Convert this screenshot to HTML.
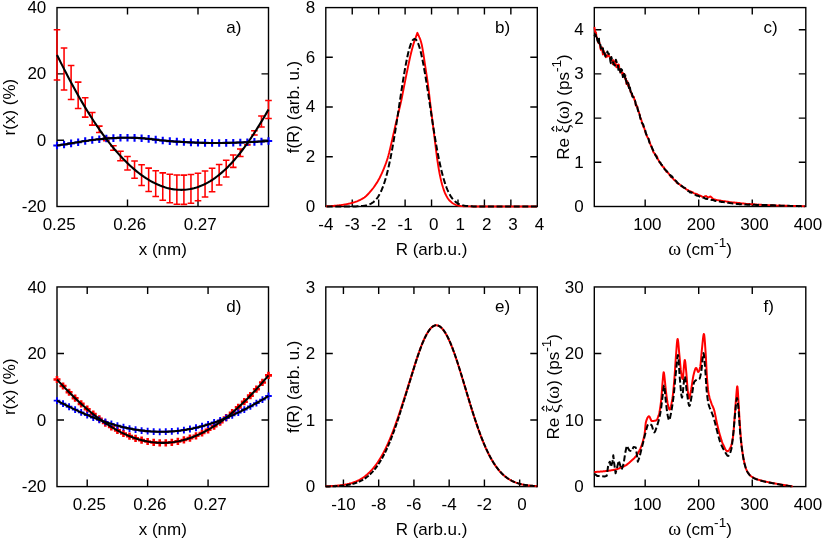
<!DOCTYPE html>
<html><head><meta charset="utf-8"><title>figure</title>
<style>html,body{margin:0;padding:0;background:#fff}body{width:822px;height:540px;overflow:hidden;font-family:"Liberation Sans",sans-serif}svg{display:block;will-change:transform}</style>
</head><body>
<svg width="822" height="540" viewBox="0 0 822 540" font-family="'Liberation Sans', sans-serif" fill="#000">
<rect width="822" height="540" fill="#fff"/>
<rect x="57" y="7.6" width="211.5" height="198.9" fill="none" stroke="#000" stroke-width="1.4"/>
<path d="M127.5 206.5v-7 M127.5 7.6v7 M198 206.5v-7 M198 7.6v7 M57 140.2h7 M268.5 140.2h-7 M57 73.9h7 M268.5 73.9h-7 " stroke="#000" stroke-width="1.4" fill="none"/>
<text x="59.2" y="229.8" text-anchor="middle" font-size="17">0.25</text>
<text x="129.7" y="229.8" text-anchor="middle" font-size="17">0.26</text>
<text x="200.2" y="229.8" text-anchor="middle" font-size="17">0.27</text>
<text x="46.3" y="211.9" text-anchor="end" font-size="17">-20</text>
<text x="46.3" y="145.6" text-anchor="end" font-size="17">0</text>
<text x="46.3" y="79.3" text-anchor="end" font-size="17">20</text>
<text x="46.3" y="13" text-anchor="end" font-size="17">40</text>
<text x="226.2" y="32.69" text-anchor="start" font-size="17">a)</text>
<text x="162.75" y="255.2" text-anchor="middle" font-size="17">x (nm)</text>
<text transform="translate(15.2 107.05) rotate(-90)" text-anchor="middle" font-size="17">r(x) (%)</text>
<rect x="325.8" y="7.6" width="211.5" height="198.9" fill="none" stroke="#000" stroke-width="1.4"/>
<path d="M352.24 206.5v-7 M352.24 7.6v7 M378.68 206.5v-7 M378.68 7.6v7 M405.11 206.5v-7 M405.11 7.6v7 M431.55 206.5v-7 M431.55 7.6v7 M457.99 206.5v-7 M457.99 7.6v7 M484.42 206.5v-7 M484.42 7.6v7 M510.86 206.5v-7 M510.86 7.6v7 M325.8 156.78h7 M537.3 156.78h-7 M325.8 107.05h7 M537.3 107.05h-7 M325.8 57.32h7 M537.3 57.32h-7 " stroke="#000" stroke-width="1.4" fill="none"/>
<text x="325.8" y="229.8" text-anchor="middle" font-size="17">-4</text>
<text x="352.24" y="229.8" text-anchor="middle" font-size="17">-3</text>
<text x="378.68" y="229.8" text-anchor="middle" font-size="17">-2</text>
<text x="405.11" y="229.8" text-anchor="middle" font-size="17">-1</text>
<text x="433.75" y="229.8" text-anchor="middle" font-size="17">0</text>
<text x="460.19" y="229.8" text-anchor="middle" font-size="17">1</text>
<text x="486.62" y="229.8" text-anchor="middle" font-size="17">2</text>
<text x="513.06" y="229.8" text-anchor="middle" font-size="17">3</text>
<text x="539.5" y="229.8" text-anchor="middle" font-size="17">4</text>
<text x="315.1" y="211.9" text-anchor="end" font-size="17">0</text>
<text x="315.1" y="162.18" text-anchor="end" font-size="17">2</text>
<text x="315.1" y="112.45" text-anchor="end" font-size="17">4</text>
<text x="315.1" y="62.72" text-anchor="end" font-size="17">6</text>
<text x="315.1" y="13" text-anchor="end" font-size="17">8</text>
<text x="495" y="32.69" text-anchor="start" font-size="17">b)</text>
<text x="431.55" y="255.2" text-anchor="middle" font-size="17">R (arb.u.)</text>
<text transform="translate(299.3 107.05) rotate(-90)" text-anchor="middle" font-size="17">f(R) (arb. u.)</text>
<rect x="594.3" y="7.6" width="211.5" height="198.9" fill="none" stroke="#000" stroke-width="1.4"/>
<path d="M645.17 206.5v-7 M645.17 7.6v7 M698.71 206.5v-7 M698.71 7.6v7 M752.26 206.5v-7 M752.26 7.6v7 M594.3 162.3h7 M805.8 162.3h-7 M594.3 118.1h7 M805.8 118.1h-7 M594.3 73.9h7 M805.8 73.9h-7 M594.3 29.7h7 M805.8 29.7h-7 " stroke="#000" stroke-width="1.4" fill="none"/>
<text x="647.37" y="229.8" text-anchor="middle" font-size="17">100</text>
<text x="700.91" y="229.8" text-anchor="middle" font-size="17">200</text>
<text x="754.46" y="229.8" text-anchor="middle" font-size="17">300</text>
<text x="808" y="229.8" text-anchor="middle" font-size="17">400</text>
<text x="583.6" y="211.9" text-anchor="end" font-size="17">0</text>
<text x="583.6" y="167.7" text-anchor="end" font-size="17">1</text>
<text x="583.6" y="123.5" text-anchor="end" font-size="17">2</text>
<text x="583.6" y="79.3" text-anchor="end" font-size="17">3</text>
<text x="583.6" y="35.1" text-anchor="end" font-size="17">4</text>
<text x="763.5" y="32.69" text-anchor="start" font-size="17">c)</text>
<text x="700.05" y="255.2" text-anchor="middle" font-size="17"><tspan font-family="'Liberation Serif', serif" font-size="19.5">&#969;</tspan> (cm<tspan font-size="13.6" dy="-8.2">-1</tspan><tspan dy="8.2">)</tspan></text>
<text transform="translate(569.1 107.05) rotate(-90)" text-anchor="middle" font-size="17">Re <tspan font-family="'Liberation Serif', serif" font-size="19.5">&#958;</tspan>(<tspan font-family="'Liberation Serif', serif" font-size="19.5">&#969;</tspan>) (ps<tspan font-size="13.6" dy="-8.2">-1</tspan><tspan dy="8.2">)</tspan></text>
<path d="M554.1 131.05L551.8 128.75L554.1 126.45" fill="none" stroke="#000" stroke-width="1.2"/>
<rect x="57" y="286.95" width="211.5" height="199.65" fill="none" stroke="#000" stroke-width="1.4"/>
<path d="M87.21 486.6v-7 M87.21 286.95v7 M147.64 486.6v-7 M147.64 286.95v7 M208.07 486.6v-7 M208.07 286.95v7 M57 420.05h7 M268.5 420.05h-7 M57 353.5h7 M268.5 353.5h-7 " stroke="#000" stroke-width="1.4" fill="none"/>
<text x="89.41" y="509.9" text-anchor="middle" font-size="17">0.25</text>
<text x="149.84" y="509.9" text-anchor="middle" font-size="17">0.26</text>
<text x="210.27" y="509.9" text-anchor="middle" font-size="17">0.27</text>
<text x="46.3" y="492.4" text-anchor="end" font-size="17">-20</text>
<text x="46.3" y="425.85" text-anchor="end" font-size="17">0</text>
<text x="46.3" y="359.3" text-anchor="end" font-size="17">20</text>
<text x="46.3" y="292.75" text-anchor="end" font-size="17">40</text>
<text x="226.2" y="312.11" text-anchor="start" font-size="17">d)</text>
<text x="162.75" y="535.3" text-anchor="middle" font-size="17">x (nm)</text>
<text transform="translate(15.2 386.77) rotate(-90)" text-anchor="middle" font-size="17">r(x) (%)</text>
<rect x="325.8" y="286.95" width="211.5" height="199.65" fill="none" stroke="#000" stroke-width="1.4"/>
<path d="M343.43 486.6v-7 M343.43 286.95v7 M378.68 486.6v-7 M378.68 286.95v7 M413.93 486.6v-7 M413.93 286.95v7 M449.17 486.6v-7 M449.17 286.95v7 M484.42 486.6v-7 M484.42 286.95v7 M519.67 486.6v-7 M519.67 286.95v7 M325.8 420.05h7 M537.3 420.05h-7 M325.8 353.5h7 M537.3 353.5h-7 " stroke="#000" stroke-width="1.4" fill="none"/>
<text x="343.43" y="509.9" text-anchor="middle" font-size="17">-10</text>
<text x="378.68" y="509.9" text-anchor="middle" font-size="17">-8</text>
<text x="413.93" y="509.9" text-anchor="middle" font-size="17">-6</text>
<text x="449.17" y="509.9" text-anchor="middle" font-size="17">-4</text>
<text x="484.42" y="509.9" text-anchor="middle" font-size="17">-2</text>
<text x="521.88" y="509.9" text-anchor="middle" font-size="17">0</text>
<text x="315.1" y="492.4" text-anchor="end" font-size="17">0</text>
<text x="315.1" y="425.85" text-anchor="end" font-size="17">1</text>
<text x="315.1" y="359.3" text-anchor="end" font-size="17">2</text>
<text x="315.1" y="292.75" text-anchor="end" font-size="17">3</text>
<text x="495" y="312.11" text-anchor="start" font-size="17">e)</text>
<text x="431.55" y="535.3" text-anchor="middle" font-size="17">R (arb.u.)</text>
<text transform="translate(299.3 386.77) rotate(-90)" text-anchor="middle" font-size="17">f(R) (arb. u.)</text>
<rect x="594.3" y="286.95" width="211.5" height="199.65" fill="none" stroke="#000" stroke-width="1.4"/>
<path d="M645.17 486.6v-7 M645.17 286.95v7 M698.71 486.6v-7 M698.71 286.95v7 M752.26 486.6v-7 M752.26 286.95v7 M594.3 420.05h7 M805.8 420.05h-7 M594.3 353.5h7 M805.8 353.5h-7 " stroke="#000" stroke-width="1.4" fill="none"/>
<text x="647.37" y="509.9" text-anchor="middle" font-size="17">100</text>
<text x="700.91" y="509.9" text-anchor="middle" font-size="17">200</text>
<text x="754.46" y="509.9" text-anchor="middle" font-size="17">300</text>
<text x="808" y="509.9" text-anchor="middle" font-size="17">400</text>
<text x="583.6" y="492.4" text-anchor="end" font-size="17">0</text>
<text x="583.6" y="425.85" text-anchor="end" font-size="17">10</text>
<text x="583.6" y="359.3" text-anchor="end" font-size="17">20</text>
<text x="583.6" y="292.75" text-anchor="end" font-size="17">30</text>
<text x="763.5" y="312.11" text-anchor="start" font-size="17">f)</text>
<text x="700.05" y="535.3" text-anchor="middle" font-size="17"><tspan font-family="'Liberation Serif', serif" font-size="19.5">&#969;</tspan> (cm<tspan font-size="13.6" dy="-8.2">-1</tspan><tspan dy="8.2">)</tspan></text>
<text transform="translate(559.3 386.77) rotate(-90)" text-anchor="middle" font-size="17">Re <tspan font-family="'Liberation Serif', serif" font-size="19.5">&#958;</tspan>(<tspan font-family="'Liberation Serif', serif" font-size="19.5">&#969;</tspan>) (ps<tspan font-size="13.6" dy="-8.2">-1</tspan><tspan dy="8.2">)</tspan></text>
<path d="M544.3 410.6L542 408.3L544.3 406" fill="none" stroke="#000" stroke-width="1.2"/>
<clipPath id="ca"><rect x="53" y="7.6" width="219.5" height="198.9"/></clipPath>
<path d="M57 29.78V80.09 M53.7 29.78h6.6 M53.7 80.09h6.6 M64.05 48.02V90.02 M60.75 48.02h6.6 M60.75 90.02h6.6 M71.1 65.51V99.54 M67.8 65.51h6.6 M67.8 99.54h6.6 M78.15 82.13V108.59 M74.85 82.13h6.6 M74.85 108.59h6.6 M85.2 97.8V117.12 M81.9 97.8h6.6 M81.9 117.12h6.6 M92.25 112.48V125.11 M88.95 112.48h6.6 M88.95 125.11h6.6 M99.3 126.13V132.54 M96 126.13h6.6 M96 132.54h6.6 M106.35 137.45V140.65 M103.05 137.45h6.6 M103.05 140.65h6.6 M113.4 145.66V150.23 M110.1 145.66h6.6 M110.1 150.23h6.6 M120.45 151.34V160.67 M117.15 151.34h6.6 M117.15 160.67h6.6 M127.5 156.44V170.02 M124.2 156.44h6.6 M124.2 170.02h6.6 M134.55 160.94V178.29 M131.25 160.94h6.6 M131.25 178.29h6.6 M141.6 164.84V185.46 M138.3 164.84h6.6 M138.3 185.46h6.6 M148.65 168.14V191.51 M145.35 168.14h6.6 M145.35 191.51h6.6 M155.7 170.82V196.45 M152.4 170.82h6.6 M152.4 196.45h6.6 M162.75 172.88V200.23 M159.45 172.88h6.6 M159.45 200.23h6.6 M169.8 174.3V202.84 M166.5 174.3h6.6 M166.5 202.84h6.6 M176.85 175.06V204.23 M173.55 175.06h6.6 M173.55 204.23h6.6 M183.9 175.14V204.38 M180.6 175.14h6.6 M180.6 204.38h6.6 M190.95 174.51V203.23 M187.65 174.51h6.6 M187.65 203.23h6.6 M198 173.17V200.76 M194.7 173.17h6.6 M194.7 200.76h6.6 M205.05 171.08V196.92 M201.75 171.08h6.6 M201.75 196.92h6.6 M212.1 168.22V191.68 M208.8 168.22h6.6 M208.8 191.68h6.6 M219.15 164.59V185.01 M215.85 164.59h6.6 M215.85 185.01h6.6 M226.2 160.18V176.91 M222.9 160.18h6.6 M222.9 176.91h6.6 M233.25 154.99V167.38 M229.95 154.99h6.6 M229.95 167.38h6.6 M240.3 149.04V156.45 M237 149.04h6.6 M237 156.45h6.6 M247.35 141.67V144.87 M244.05 141.67h6.6 M244.05 144.87h6.6 M254.4 130.66V135.01 M251.1 130.66h6.6 M251.1 135.01h6.6 M261.45 116.04V127.05 M258.15 116.04h6.6 M258.15 127.05h6.6 M268.5 100.51V118.59 M265.2 100.51h6.6 M265.2 118.59h6.6 " stroke="#ff0000" stroke-width="1.55" fill="none"/>
<path d="M57 141.7v7.6 M53.3 145.5h7.4 M64.05 140.67v7.6 M60.35 144.47h7.4 M71.1 139.54v7.6 M67.4 143.34h7.4 M78.15 138.38v7.6 M74.45 142.18h7.4 M85.2 137.26v7.6 M81.5 141.06h7.4 M92.25 136.25v7.6 M88.55 140.05h7.4 M99.3 135.41v7.6 M95.6 139.21h7.4 M106.35 134.77v7.6 M102.65 138.57h7.4 M113.4 134.29v7.6 M109.7 138.09h7.4 M120.45 133.99v7.6 M116.75 137.79h7.4 M127.5 133.9v7.6 M123.8 137.7h7.4 M134.55 134.04v7.6 M130.85 137.84h7.4 M141.6 134.42v7.6 M137.9 138.22h7.4 M148.65 135.06v7.6 M144.95 138.86h7.4 M155.7 135.87v7.6 M152 139.67h7.4 M162.75 136.67v7.6 M159.05 140.47h7.4 M169.8 137.32v7.6 M166.1 141.12h7.4 M176.85 137.83v7.6 M173.15 141.63h7.4 M183.9 138.24v7.6 M180.2 142.04h7.4 M190.95 138.6v7.6 M187.25 142.4h7.4 M198 138.89v7.6 M194.3 142.69h7.4 M205.05 139.1v7.6 M201.35 142.9h7.4 M212.1 139.2v7.6 M208.4 143h7.4 M219.15 139.2v7.6 M215.45 143h7.4 M226.2 139.1v7.6 M222.5 142.9h7.4 M233.25 138.93v7.6 M229.55 142.73h7.4 M240.3 138.69v7.6 M236.6 142.49h7.4 M247.35 138.39v7.6 M243.65 142.19h7.4 M254.4 138.03v7.6 M250.7 141.83h7.4 M261.45 137.63v7.6 M257.75 141.43h7.4 M268.5 137.2v7.6 M264.8 141h7.4 " stroke="#0000ff" stroke-width="2.1" fill="none"/>
<path d="M57 54.93 L58.78 58.53 L60.55 62.1 L62.33 65.64 L64.11 69.14 L65.89 72.6 L67.66 76.02 L69.44 79.4 L71.22 82.74 L73 86.04 L74.77 89.3 L76.55 92.51 L78.33 95.67 L80.11 98.79 L81.88 101.86 L83.66 104.88 L85.44 107.86 L87.21 110.78 L88.99 113.66 L90.77 116.48 L92.55 119.26 L94.32 121.98 L96.1 124.65 L97.88 127.27 L99.66 129.84 L101.43 132.36 L103.21 134.83 L104.99 137.24 L106.76 139.6 L108.54 141.91 L110.32 144.16 L112.1 146.36 L113.87 148.51 L115.65 150.61 L117.43 152.65 L119.21 154.64 L120.98 156.58 L122.76 158.47 L124.54 160.3 L126.32 162.07 L128.09 163.8 L129.87 165.47 L131.65 167.09 L133.42 168.65 L135.2 170.16 L136.98 171.62 L138.76 173.02 L140.53 174.36 L142.31 175.66 L144.09 176.9 L145.87 178.08 L147.64 179.21 L149.42 180.28 L151.2 181.3 L152.97 182.27 L154.75 183.17 L156.53 184.02 L158.31 184.82 L160.08 185.56 L161.86 186.24 L163.64 186.86 L165.42 187.42 L167.19 187.93 L168.97 188.38 L170.75 188.77 L172.53 189.1 L174.3 189.36 L176.08 189.57 L177.86 189.72 L179.63 189.81 L181.41 189.83 L183.19 189.79 L184.97 189.69 L186.74 189.52 L188.52 189.29 L190.3 189 L192.08 188.64 L193.85 188.21 L195.63 187.72 L197.41 187.16 L199.18 186.54 L200.96 185.85 L202.74 185.09 L204.52 184.26 L206.29 183.36 L208.07 182.4 L209.85 181.36 L211.63 180.26 L213.4 179.08 L215.18 177.84 L216.96 176.52 L218.74 175.14 L220.51 173.68 L222.29 172.15 L224.07 170.56 L225.84 168.89 L227.62 167.15 L229.4 165.34 L231.18 163.46 L232.95 161.52 L234.73 159.5 L236.51 157.42 L238.29 155.26 L240.06 153.05 L241.84 150.76 L243.62 148.41 L245.39 146 L247.17 143.52 L248.95 140.98 L250.73 138.39 L252.5 135.73 L254.28 133.02 L256.06 130.25 L257.84 127.43 L259.61 124.56 L261.39 121.65 L263.17 118.68 L264.95 115.68 L266.72 112.63 L268.5 109.55" fill="none" stroke="#000000" stroke-width="2.1" stroke-linejoin="round" stroke-linecap="butt"/>
<path d="M57 145.5 L58.78 145.25 L60.55 145 L62.33 144.73 L64.11 144.46 L65.89 144.18 L67.66 143.9 L69.44 143.61 L71.22 143.32 L73 143.03 L74.77 142.74 L76.55 142.44 L78.33 142.15 L80.11 141.86 L81.88 141.58 L83.66 141.3 L85.44 141.03 L87.21 140.76 L88.99 140.5 L90.77 140.25 L92.55 140.01 L94.32 139.78 L96.1 139.57 L97.88 139.37 L99.66 139.18 L101.43 139 L103.21 138.83 L104.99 138.68 L106.76 138.53 L108.54 138.4 L110.32 138.28 L112.1 138.17 L113.87 138.06 L115.65 137.97 L117.43 137.9 L119.21 137.83 L120.98 137.78 L122.76 137.73 L124.54 137.71 L126.32 137.7 L128.09 137.7 L129.87 137.72 L131.65 137.75 L133.42 137.8 L135.2 137.86 L136.98 137.94 L138.76 138.04 L140.53 138.15 L142.31 138.28 L144.09 138.42 L145.87 138.58 L147.64 138.76 L149.42 138.95 L151.2 139.14 L152.97 139.35 L154.75 139.56 L156.53 139.77 L158.31 139.98 L160.08 140.18 L161.86 140.38 L163.64 140.57 L165.42 140.74 L167.19 140.9 L168.97 141.06 L170.75 141.2 L172.53 141.33 L174.3 141.46 L176.08 141.58 L177.86 141.69 L179.63 141.8 L181.41 141.9 L183.19 142 L184.97 142.1 L186.74 142.19 L188.52 142.28 L190.3 142.37 L192.08 142.45 L193.85 142.53 L195.63 142.6 L197.41 142.67 L199.18 142.74 L200.96 142.79 L202.74 142.84 L204.52 142.89 L206.29 142.93 L208.07 142.96 L209.85 142.98 L211.63 143 L213.4 143.01 L215.18 143.01 L216.96 143.01 L218.74 143 L220.51 142.98 L222.29 142.96 L224.07 142.94 L225.84 142.91 L227.62 142.87 L229.4 142.83 L231.18 142.79 L232.95 142.74 L234.73 142.68 L236.51 142.63 L238.29 142.56 L240.06 142.5 L241.84 142.43 L243.62 142.35 L245.39 142.28 L247.17 142.19 L248.95 142.11 L250.73 142.02 L252.5 141.93 L254.28 141.84 L256.06 141.74 L257.84 141.64 L259.61 141.54 L261.39 141.44 L263.17 141.33 L264.95 141.22 L266.72 141.11 L268.5 141" fill="none" stroke="#000000" stroke-width="2.1" stroke-linejoin="round" stroke-linecap="butt"/>
<path d="M326 206.3 L326.75 206.29 L327.51 206.26 L328.26 206.24 L329.01 206.2 L329.76 206.16 L330.52 206.12 L331.27 206.06 L332.02 206.01 L332.78 205.95 L333.53 205.88 L334.28 205.81 L335.04 205.74 L335.79 205.66 L336.54 205.58 L337.29 205.5 L338.05 205.42 L338.8 205.33 L339.55 205.25 L340.31 205.16 L341.06 205.07 L341.81 204.97 L342.56 204.87 L343.32 204.76 L344.07 204.64 L344.82 204.51 L345.58 204.37 L346.33 204.23 L347.08 204.08 L347.84 203.92 L348.59 203.75 L349.34 203.58 L350.09 203.39 L350.85 203.21 L351.6 203.01 L352.35 202.81 L353.11 202.6 L353.86 202.38 L354.61 202.15 L355.36 201.91 L356.12 201.64 L356.87 201.36 L357.62 201.06 L358.38 200.73 L359.13 200.39 L359.88 200.03 L360.64 199.65 L361.39 199.25 L362.14 198.83 L362.89 198.39 L363.65 197.92 L364.4 197.43 L365.15 196.87 L365.91 196.23 L366.66 195.54 L367.41 194.8 L368.16 194.01 L368.92 193.18 L369.67 192.32 L370.42 191.45 L371.18 190.56 L371.93 189.66 L372.68 188.72 L373.44 187.74 L374.19 186.71 L374.94 185.64 L375.69 184.52 L376.45 183.36 L377.2 182.16 L377.95 180.91 L378.71 179.59 L379.46 178.2 L380.21 176.72 L380.96 175.17 L381.72 173.55 L382.47 171.87 L383.22 170.12 L383.98 168.32 L384.73 166.45 L385.48 164.48 L386.24 162.4 L386.99 160.19 L387.74 157.84 L388.49 155.27 L389.25 152.34 L390 149.16 L390.75 145.91 L391.51 142.7 L392.26 139.43 L393.01 136.08 L393.76 132.71 L394.52 129.36 L395.27 126.06 L396.02 122.84 L396.78 119.67 L397.53 116.54 L398.28 113.4 L399.04 110.25 L399.79 107.05 L400.54 103.86 L401.29 100.56 L402.05 96.89 L402.8 92.92 L403.55 89 L404.31 85.13 L405.06 81.31 L405.81 77.58 L406.56 73.92 L407.32 70.25 L408.07 66.55 L408.82 62.96 L409.58 59.49 L410.33 56.12 L411.08 52.97 L411.84 49.99 L412.59 47.16 L413.34 44.53 L414.09 42.1 L414.85 39.86 L415.6 37.8 L417.4 32.8 L419.3 37.2 L420.15 39.03 L420.99 41.73 L421.84 45.02 L422.69 49.59 L423.53 54.75 L424.38 60.45 L425.23 66.07 L426.07 71.63 L426.92 77.15 L427.77 83.05 L428.61 89.61 L429.46 96.73 L430.31 103.8 L431.15 110.69 L432 117.49 L432.85 124.28 L433.69 131.11 L434.54 137.96 L435.39 144.7 L436.24 151.57 L437.08 158.22 L437.93 163.94 L438.78 169.04 L439.62 173.72 L440.47 177.88 L441.32 181.45 L442.16 184.64 L443.01 187.57 L443.86 190.18 L444.7 192.44 L445.55 194.3 L446.4 195.92 L447.24 197.39 L448.09 198.71 L448.94 199.85 L449.78 200.82 L450.63 201.6 L451.48 202.29 L452.32 202.93 L453.17 203.51 L454.02 204.02 L454.86 204.45 L455.71 204.81 L456.56 205.09 L457.4 205.31 L458.25 205.51 L459.1 205.7 L459.94 205.86 L460.79 206 L461.64 206.1 L462.48 206.17 L463.33 206.21 L464.18 206.24 L465.03 206.27 L465.87 206.3 L466.72 206.32 L467.57 206.34 L468.41 206.36 L469.26 206.38 L470.11 206.4 L470.95 206.42 L471.8 206.43 L472.65 206.45 L473.49 206.46 L474.34 206.47 L475.19 206.48 L476.03 206.48 L476.88 206.49 L477.73 206.49 L478.57 206.5 L479.42 206.5 L480.27 206.5 L481.11 206.5 L481.96 206.5 L482.81 206.5 L483.65 206.5 L484.5 206.5 L485.35 206.5 L486.19 206.5 L487.04 206.5 L487.89 206.5 L488.73 206.5 L489.58 206.5 L490.43 206.5 L491.27 206.5 L492.12 206.5 L492.97 206.5 L493.82 206.5 L494.66 206.5 L495.51 206.5 L496.36 206.5 L497.2 206.5 L498.05 206.5 L498.9 206.5 L499.74 206.5 L500.59 206.5 L501.44 206.5 L502.28 206.5 L503.13 206.5 L503.98 206.5 L504.82 206.5 L505.67 206.5 L506.52 206.5 L507.36 206.5 L508.21 206.5 L509.06 206.5 L509.9 206.5 L510.75 206.5 L511.6 206.5 L512.44 206.5 L513.29 206.5 L514.14 206.5 L514.98 206.5 L515.83 206.5 L516.68 206.5 L517.52 206.5 L518.37 206.5 L519.22 206.5 L520.06 206.5 L520.91 206.5 L521.76 206.5 L522.61 206.5 L523.45 206.5 L524.3 206.5 L525.15 206.5 L525.99 206.5 L526.84 206.5 L527.69 206.5 L528.53 206.5 L529.38 206.5 L530.23 206.5 L531.07 206.5 L531.92 206.5 L532.77 206.5 L533.61 206.5 L534.46 206.5 L535.31 206.5 L536.15 206.5 L537 206.5" fill="none" stroke="#ff0000" stroke-width="1.9" stroke-linejoin="round" stroke-linecap="butt"/>
<path d="M325.8 206.5 L326.51 206.5 L327.21 206.5 L327.92 206.5 L328.63 206.5 L329.34 206.5 L330.04 206.5 L330.75 206.5 L331.46 206.5 L332.17 206.5 L332.87 206.5 L333.58 206.5 L334.29 206.5 L335 206.5 L335.7 206.5 L336.41 206.5 L337.12 206.5 L337.83 206.5 L338.53 206.5 L339.24 206.5 L339.95 206.5 L340.65 206.5 L341.36 206.5 L342.07 206.5 L342.78 206.5 L343.48 206.5 L344.19 206.5 L344.9 206.49 L345.61 206.49 L346.31 206.49 L347.02 206.49 L347.73 206.49 L348.44 206.49 L349.14 206.48 L349.85 206.48 L350.56 206.47 L351.26 206.47 L351.97 206.46 L352.68 206.45 L353.39 206.44 L354.09 206.43 L354.8 206.42 L355.51 206.4 L356.22 206.38 L356.92 206.36 L357.63 206.34 L358.34 206.31 L359.05 206.27 L359.75 206.23 L360.46 206.18 L361.17 206.12 L361.88 206.06 L362.58 205.98 L363.29 205.89 L364 205.79 L364.7 205.68 L365.41 205.55 L366.12 205.39 L366.83 205.22 L367.53 205.02 L368.24 204.8 L368.95 204.55 L369.66 204.26 L370.36 203.94 L371.07 203.57 L371.78 203.17 L372.49 202.71 L373.19 202.2 L373.9 201.63 L374.61 201 L375.32 200.3 L376.02 199.53 L376.73 198.67 L377.44 197.73 L378.14 196.7 L378.85 195.57 L379.56 194.34 L380.27 192.99 L380.97 191.53 L381.68 189.95 L382.39 188.24 L383.1 186.39 L383.8 184.41 L384.51 182.28 L385.22 180 L385.93 177.57 L386.63 174.99 L387.34 172.25 L388.05 169.35 L388.75 166.28 L389.46 163.06 L390.17 159.69 L390.88 156.15 L391.58 152.47 L392.29 148.64 L393 144.67 L393.71 140.57 L394.41 136.35 L395.12 132.02 L395.83 127.59 L396.54 123.07 L397.24 118.48 L397.95 113.84 L398.66 109.17 L399.37 104.47 L400.07 99.78 L400.78 95.11 L401.49 90.48 L402.19 85.92 L402.9 81.45 L403.61 77.09 L404.32 72.86 L405.02 68.79 L405.73 64.9 L406.44 61.21 L407.15 57.74 L407.85 54.52 L408.56 51.55 L409.27 48.87 L409.98 46.48 L410.68 44.4 L411.39 42.65 L412.1 41.23 L412.81 40.15 L413.51 39.42 L414.22 39.05 L414.93 39.04 L415.63 39.38 L416.34 40.08 L417.05 41.13 L417.76 42.53 L418.46 44.26 L419.17 46.31 L419.88 48.68 L420.59 51.34 L421.29 54.29 L422 57.49 L422.71 60.94 L423.42 64.62 L424.12 68.49 L424.83 72.55 L425.54 76.77 L426.24 81.12 L426.95 85.58 L427.66 90.14 L428.37 94.76 L429.07 99.43 L429.78 104.12 L430.49 108.81 L431.2 113.49 L431.9 118.14 L432.61 122.73 L433.32 127.25 L434.03 131.69 L434.73 136.03 L435.44 140.26 L436.15 144.37 L436.86 148.35 L437.56 152.19 L438.27 155.88 L438.98 159.43 L439.68 162.82 L440.39 166.05 L441.1 169.12 L441.81 172.03 L442.51 174.79 L443.22 177.38 L443.93 179.83 L444.64 182.11 L445.34 184.25 L446.05 186.25 L446.76 188.1 L447.47 189.83 L448.17 191.42 L448.88 192.89 L449.59 194.24 L450.29 195.48 L451 196.62 L451.71 197.66 L452.42 198.6 L453.12 199.46 L453.83 200.24 L454.54 200.95 L455.25 201.59 L455.95 202.16 L456.66 202.67 L457.37 203.13 L458.08 203.54 L458.78 203.91 L459.49 204.24 L460.2 204.53 L460.91 204.78 L461.61 205.01 L462.32 205.21 L463.03 205.38 L463.73 205.54 L464.44 205.67 L465.15 205.79 L465.86 205.89 L466.56 205.98 L467.27 206.05 L467.98 206.12 L468.69 206.18 L469.39 206.23 L470.1 206.27 L470.81 206.3 L471.52 206.33 L472.22 206.36 L472.93 206.38 L473.64 206.4 L474.35 206.42 L475.05 206.43 L475.76 206.44 L476.47 206.45 L477.17 206.46 L477.88 206.47 L478.59 206.47 L479.3 206.48 L480 206.48 L480.71 206.49 L481.42 206.49 L482.13 206.49 L482.83 206.49 L483.54 206.49 L484.25 206.49 L484.96 206.5 L485.66 206.5 L486.37 206.5 L487.08 206.5 L487.78 206.5 L488.49 206.5 L489.2 206.5 L489.91 206.5 L490.61 206.5 L491.32 206.5 L492.03 206.5 L492.74 206.5 L493.44 206.5 L494.15 206.5 L494.86 206.5 L495.57 206.5 L496.27 206.5 L496.98 206.5 L497.69 206.5 L498.4 206.5 L499.1 206.5 L499.81 206.5 L500.52 206.5 L501.22 206.5 L501.93 206.5 L502.64 206.5 L503.35 206.5 L504.05 206.5 L504.76 206.5 L505.47 206.5 L506.18 206.5 L506.88 206.5 L507.59 206.5 L508.3 206.5 L509.01 206.5 L509.71 206.5 L510.42 206.5 L511.13 206.5 L511.84 206.5 L512.54 206.5 L513.25 206.5 L513.96 206.5 L514.66 206.5 L515.37 206.5 L516.08 206.5 L516.79 206.5 L517.49 206.5 L518.2 206.5 L518.91 206.5 L519.62 206.5 L520.32 206.5 L521.03 206.5 L521.74 206.5 L522.45 206.5 L523.15 206.5 L523.86 206.5 L524.57 206.5 L525.27 206.5 L525.98 206.5 L526.69 206.5 L527.4 206.5 L528.1 206.5 L528.81 206.5 L529.52 206.5 L530.23 206.5 L530.93 206.5 L531.64 206.5 L532.35 206.5 L533.06 206.5 L533.76 206.5 L534.47 206.5 L535.18 206.5 L535.89 206.5 L536.59 206.5 L537.3 206.5" fill="none" stroke="#000000" stroke-width="2.0" stroke-linejoin="round" stroke-linecap="butt" stroke-dasharray="6 2.6" stroke-dashoffset="7.71"/>
<path d="M594.4 27 L594.9 30.56 L595.4 32.28 L595.9 32.12 L596.4 35.68 L596.9 37.99 L597.4 38.84 L597.9 41.15 L598.4 42.97 L598.9 41.71 L599.4 42.42 L599.9 44.67 L600.4 48.32 L600.9 49.95 L601.4 47.43 L601.9 47.31 L602.4 51.33 L602.9 54.53 L603.4 52.74 L603.9 51.09 L604.4 54.3 L604.9 53.39 L605.4 54.75 L605.9 57.23 L606.4 56.5 L606.9 55.34 L607.4 56.57 L607.9 55.02 L608.4 55.5 L608.9 55.65 L609.4 56.64 L609.9 56.98 L610.4 57.94 L610.9 58.38 L611.4 59.67 L611.9 60.52 L612.4 61.52 L612.9 64.22 L613.4 60.31 L613.9 64.06 L614.4 63.69 L614.9 61.51 L615.4 63.26 L615.9 64.87 L616.4 67.23 L616.9 64.58 L617.4 66 L617.9 67.15 L618.4 64.44 L618.9 64.73 L619.4 68.72 L619.9 70.56 L620.4 71.92 L620.9 71.84 L621.4 71.98 L621.9 72.25 L622.4 74.91 L622.9 72.92 L623.4 73.81 L623.9 76.1 L624.4 73.9 L624.9 78.71 L625.4 77.76 L625.9 78.72 L626.4 83.99 L626.9 81.32 L627.4 81.27 L627.9 85.76 L628.4 84.15 L628.9 85.03 L629.4 87.84 L629.9 89.41 L630.4 90.78 L630.9 91.82 L631.4 93.96 L631.9 95.14 L632.4 95.88 L632.9 95.84 L633.4 96.68 L633.9 96.89 L634.4 100.07 L634.9 99.99 L635.4 102.85 L635.9 105.78 L636.4 105 L636.9 105.86 L637.4 107.57 L637.9 110.17 L638.4 110.73 L638.9 112.42 L639.4 113.91 L639.9 115.62 L640 117.16 L640.85 118.58 L641.7 121.34 L642.55 124.18 L643.4 127 L644.25 128.05 L645.1 131.38 L645.95 133.69 L646.8 135.97 L647.65 137.7 L648.5 138.65 L649.35 140.95 L650.2 143.95 L651.05 145.78 L651.9 147.5 L652.75 150.27 L653.6 152.55 L654.45 153.2 L655.3 155.44 L656.15 155.46 L657 156.33 L657.85 159.2 L658.7 160.56 L659.55 162.1 L660.4 163.48 L661.25 164.43 L662.1 165.87 L662.95 166.91 L663.8 167.22 L664.65 168.82 L665.5 170.14 L666.35 171.86 L667.2 171.93 L668.05 172.99 L668.9 173.98 L669.75 175 L670.6 176.67 L671.45 177.35 L672.3 177.76 L673.15 178.75 L674 179.88 L674.85 180.17 L675.7 181.01 L676.55 182.49 L677.4 183.22 L678.25 183.59 L679.1 184.06 L679.95 184.8 L680.8 185.07 L681.65 186.29 L682.5 186.97 L683.35 187.43 L684.2 187.57 L685.05 188.14 L685.9 189.04 L686.75 189.59 L687.6 189.86 L688.45 190.51 L689.3 191.14 L690.15 191.23 L691 191.55 L691.85 191.89 L692.7 192.19 L693.55 192.97 L694.4 193.42 L695.25 193.73 L696.1 193.78 L696.95 194.06 L697.8 194.62 L698.65 194.98 L699.5 195.4 L700.35 195.62 L701.2 196.12 L702.05 196.69 L702.9 196.94 L703.75 196.97 L704.6 196.44 L705.45 196.09 L706.3 196.05 L707.15 196.9 L708 197.43 L708.85 197.32 L709.7 196.68 L710.55 196.51 L711.4 197.15 L712.25 198.22 L713.1 198.86 L713.95 199.35 L714.8 199.47 L715.65 199.9 L716.5 200.02 L717.35 200.17 L718.2 200.32 L719.05 200.34 L719.9 200.47 L720.75 200.72 L721.6 201 L722.45 200.98 L723.3 201.07 L724.15 201.25 L725 201.27 L725.85 201.34 L726.7 201.55 L727.55 201.72 L728.4 201.81 L729.25 202.05 L730.1 202.08 L730.95 202.18 L731.8 202.38 L732.65 202.52 L733.5 202.4 L734.35 202.5 L735.2 202.73 L736.05 202.7 L736.9 202.77 L737.75 202.85 L738.6 202.93 L739.45 203.04 L740.3 203.22 L741.15 203.41 L742 203.54 L742.85 203.54 L743.7 203.47 L744.55 203.62 L745.4 203.73 L746.25 203.84 L747.1 203.9 L747.95 203.86 L748.8 204.02 L749.65 203.98 L750.5 204.07 L751.35 204.22 L752.2 204.3 L753.05 204.43 L753.9 204.29 L754.75 204.41 L755.6 204.54 L756.45 204.54 L757.3 204.62 L758.15 204.6 L759 204.71 L759.85 204.78 L760.7 204.74 L761.55 204.78 L762.4 204.85 L763.25 204.88 L764.1 204.99 L764.95 205.02 L765.8 205.1 L766.65 205.15 L767.5 205.13 L768.35 205.14 L769.2 205.14 L770.05 205.17 L770.9 205.21 L771.75 205.29 L772.6 205.29 L773.45 205.35 L774.3 205.4 L775.15 205.4 L776 205.43 L776.85 205.53 L777.7 205.59 L778.55 205.52 L779.4 205.54 L780.25 205.57 L781.1 205.6 L781.95 205.69 L782.8 205.71 L783.65 205.74 L784.5 205.79 L785.35 205.75 L786.2 205.75 L787.05 205.79 L787.9 205.85 L788.75 205.85 L789.6 205.88 L790.45 205.93 L791.3 205.96 L792.15 205.95 L793 205.93 L793.85 205.91 L794.7 206.01 L795.55 206.04 L796.4 206.01 L797.25 206.03 L798.1 206.05 L798.95 206.04 L799.8 206.09 L800.65 206.1 L801.5 206.12 L802.35 206.17 L803.2 206.17 L804.05 206.19 L804.9 206.21" fill="none" stroke="#ff0000" stroke-width="1.9" stroke-linejoin="round" stroke-linecap="butt"/>
<path d="M594.4 34.6 L594.9 36 L595.4 34.37 L595.9 35.43 L596.4 38.86 L596.9 37.92 L597.4 40.4 L597.9 41.68 L598.4 40.89 L598.9 37.69 L599.4 45.94 L599.9 44.9 L600.4 44.72 L600.9 48.13 L601.4 49.58 L601.9 50.68 L602.4 50.42 L602.9 48.19 L603.4 52.48 L603.9 51.14 L604.4 52.61 L604.9 54.53 L605.4 56.38 L605.9 54.44 L606.4 53.68 L606.9 54.15 L607.4 51.46 L607.9 52.95 L608.4 53.73 L608.9 53.83 L609.4 56.89 L609.9 57.46 L610.4 61.47 L610.9 63.18 L611.4 57.1 L611.9 59.29 L612.4 59.09 L612.9 61.96 L613.4 62.86 L613.9 64.67 L614.4 64.55 L614.9 65.53 L615.4 64.27 L615.9 59.7 L616.4 61.25 L616.9 63.29 L617.4 64.73 L617.9 64.49 L618.4 69.83 L618.9 68.66 L619.4 70.82 L619.9 69.2 L620.4 72.57 L620.9 69.02 L621.4 71.29 L621.9 69.6 L622.4 72.65 L622.9 77.06 L623.4 72.49 L623.9 72.68 L624.4 76.32 L624.9 77.19 L625.4 75.54 L625.9 80.65 L626.4 81.24 L626.9 83.81 L627.4 83.9 L627.9 81.98 L628.4 83.5 L628.9 87.95 L629.4 86.1 L629.9 87.35 L630.4 90.47 L630.9 92.66 L631.4 93.8 L631.9 92.52 L632.4 96.59 L632.9 96.84 L633.4 97.48 L633.9 98.79 L634.4 99.84 L634.9 100.35 L635.4 102.02 L635.9 105.1 L636.4 104.51 L636.9 104.08 L637.4 107.86 L637.9 110.1 L638.4 111.92 L638.9 114.45 L639.4 114.25 L639.9 115.88 L640 116.73 L640.85 120.09 L641.7 122.69 L642.55 123.61 L643.4 125.1 L644.25 128.12 L645.1 129.74 L645.95 133.55 L646.8 135.35 L647.65 137.15 L648.5 138.92 L649.35 142.36 L650.2 144.13 L651.05 145.43 L651.9 147.78 L652.75 149.43 L653.6 151.43 L654.45 153.68 L655.3 154.6 L656.15 156.33 L657 158.01 L657.85 159.82 L658.7 161.06 L659.55 162 L660.4 162.83 L661.25 164.42 L662.1 165.12 L662.95 166.87 L663.8 168 L664.65 169.22 L665.5 169.88 L666.35 170.64 L667.2 171.59 L668.05 173.49 L668.9 174.21 L669.75 174.98 L670.6 175.28 L671.45 176.7 L672.3 176.47 L673.15 178.81 L674 179.69 L674.85 180.39 L675.7 180.68 L676.55 181.41 L677.4 182.85 L678.25 183.51 L679.1 184.34 L679.95 185.38 L680.8 185.99 L681.65 185.77 L682.5 186.45 L683.35 187.17 L684.2 187.86 L685.05 188.16 L685.9 188.66 L686.75 189.63 L687.6 190.36 L688.45 191.21 L689.3 191.61 L690.15 192.48 L691 192.3 L691.85 192.61 L692.7 193.45 L693.55 193.84 L694.4 194.01 L695.25 194.72 L696.1 195.28 L696.95 195.71 L697.8 195.72 L698.65 196.03 L699.5 196.45 L700.35 196.76 L701.2 197.25 L702.05 197.33 L702.9 197.67 L703.75 197.53 L704.6 198.14 L705.45 198.7 L706.3 198.7 L707.15 199 L708 198.85 L708.85 199.12 L709.7 199.22 L710.55 199.62 L711.4 199.93 L712.25 199.89 L713.1 200.07 L713.95 200.32 L714.8 200.87 L715.65 200.89 L716.5 200.99 L717.35 201.2 L718.2 201.36 L719.05 201.46 L719.9 201.5 L720.75 201.66 L721.6 202.01 L722.45 202.09 L723.3 202.12 L724.15 202.15 L725 202.35 L725.85 202.51 L726.7 202.57 L727.55 202.79 L728.4 202.82 L729.25 202.92 L730.1 203.12 L730.95 203.2 L731.8 203.36 L732.65 203.38 L733.5 203.43 L734.35 203.59 L735.2 203.69 L736.05 203.86 L736.9 203.92 L737.75 203.97 L738.6 204.08 L739.45 204.2 L740.3 204.16 L741.15 204.24 L742 204.31 L742.85 204.46 L743.7 204.44 L744.55 204.55 L745.4 204.47 L746.25 204.54 L747.1 204.68 L747.95 204.65 L748.8 204.75 L749.65 204.6 L750.5 204.69 L751.35 204.77 L752.2 204.78 L753.05 204.71 L753.9 204.84 L754.75 204.72 L755.6 204.88 L756.45 204.93 L757.3 204.97 L758.15 204.92 L759 204.86 L759.85 204.89 L760.7 204.92 L761.55 204.99 L762.4 204.97 L763.25 205 L764.1 205.02 L764.95 205.08 L765.8 204.95 L766.65 205.01 L767.5 205.14 L768.35 205.2 L769.2 205.17 L770.05 205.2 L770.9 205.25 L771.75 205.3 L772.6 205.3 L773.45 205.32 L774.3 205.32 L775.15 205.38 L776 205.51 L776.85 205.46 L777.7 205.53 L778.55 205.63 L779.4 205.6 L780.25 205.69 L781.1 205.64 L781.95 205.71 L782.8 205.69 L783.65 205.64 L784.5 205.71 L785.35 205.82 L786.2 205.77 L787.05 205.8 L787.9 205.78 L788.75 205.79 L789.6 205.87 L790.45 205.88 L791.3 205.93 L792.15 205.98 L793 205.93 L793.85 205.94 L794.7 205.99 L795.55 206.09 L796.4 206.05 L797.25 206.03 L798.1 206.08 L798.95 206.16 L799.8 206.11 L800.65 206.11 L801.5 206.14 L802.35 206.18 L803.2 206.24 L804.05 206.17 L804.9 206.14" fill="none" stroke="#000000" stroke-width="2.0" stroke-linejoin="round" stroke-linecap="butt" stroke-dasharray="6 2.6"/>
<path d="M57 375.91v7.2 M53.5 379.51h7 M63.04 382.41v7.2 M59.54 386.01h7 M69.09 388.64v7.2 M65.59 392.24h7 M75.13 394.6v7.2 M71.63 398.2h7 M81.17 400.25v7.2 M77.67 403.85h7 M87.21 405.58v7.2 M83.71 409.18h7 M93.26 410.57v7.2 M89.76 414.17h7 M99.3 415.2v7.2 M95.8 418.8h7 M105.34 419.46v7.2 M101.84 423.06h7 M111.39 423.34v7.2 M107.89 426.94h7 M117.43 426.82v7.2 M113.93 430.42h7 M123.47 429.89v7.2 M119.97 433.49h7 M129.51 432.54v7.2 M126.01 436.14h7 M135.56 434.76v7.2 M132.06 438.36h7 M141.6 436.54v7.2 M138.1 440.14h7 M147.64 437.88v7.2 M144.14 441.48h7 M153.69 438.77v7.2 M150.19 442.37h7 M159.73 439.2v7.2 M156.23 442.8h7 M165.77 439.18v7.2 M162.27 442.78h7 M171.81 438.69v7.2 M168.31 442.29h7 M177.86 437.75v7.2 M174.36 441.35h7 M183.9 436.35v7.2 M180.4 439.95h7 M189.94 434.49v7.2 M186.44 438.09h7 M195.99 432.18v7.2 M192.49 435.78h7 M202.03 429.41v7.2 M198.53 433.01h7 M208.07 426.2v7.2 M204.57 429.8h7 M214.11 422.56v7.2 M210.61 426.16h7 M220.16 418.48v7.2 M216.66 422.08h7 M226.2 413.98v7.2 M222.7 417.58h7 M232.24 409.08v7.2 M228.74 412.68h7 M238.29 403.77v7.2 M234.79 407.37h7 M244.33 398.08v7.2 M240.83 401.68h7 M250.37 392.02v7.2 M246.87 395.62h7 M256.41 385.6v7.2 M252.91 389.2h7 M262.46 378.84v7.2 M258.96 382.44h7 M268.5 371.77v7.2 M265 375.37h7 " stroke="#ff0000" stroke-width="2.6" fill="none"/>
<path d="M57 397.23v6.8 M53.7 400.63h6.6 M63.04 400.32v6.8 M59.74 403.72h6.6 M69.09 403.33v6.8 M65.79 406.73h6.6 M75.13 406.22v6.8 M71.83 409.62h6.6 M81.17 408.99v6.8 M77.87 412.39h6.6 M87.21 411.63v6.8 M83.91 415.03h6.6 M93.26 414.11v6.8 M89.96 417.51h6.6 M99.3 416.42v6.8 M96 419.82h6.6 M105.34 418.56v6.8 M102.04 421.96h6.6 M111.39 420.51v6.8 M108.09 423.91h6.6 M117.43 422.26v6.8 M114.13 425.66h6.6 M123.47 423.81v6.8 M120.17 427.21h6.6 M129.51 425.14v6.8 M126.21 428.54h6.6 M135.56 426.25v6.8 M132.26 429.65h6.6 M141.6 427.13v6.8 M138.3 430.53h6.6 M147.64 427.79v6.8 M144.34 431.19h6.6 M153.69 428.2v6.8 M150.39 431.6h6.6 M159.73 428.38v6.8 M156.43 431.78h6.6 M165.77 428.31v6.8 M162.47 431.71h6.6 M171.81 428v6.8 M168.51 431.4h6.6 M177.86 427.45v6.8 M174.56 430.85h6.6 M183.9 426.65v6.8 M180.6 430.05h6.6 M189.94 425.62v6.8 M186.64 429.02h6.6 M195.99 424.34v6.8 M192.69 427.74h6.6 M202.03 422.83v6.8 M198.73 426.23h6.6 M208.07 421.09v6.8 M204.77 424.49h6.6 M214.11 419.12v6.8 M210.81 422.52h6.6 M220.16 416.94v6.8 M216.86 420.34h6.6 M226.2 414.54v6.8 M222.9 417.94h6.6 M232.24 411.94v6.8 M228.94 415.34h6.6 M238.29 409.14v6.8 M234.99 412.54h6.6 M244.33 406.16v6.8 M241.03 409.56h6.6 M250.37 403v6.8 M247.07 406.4h6.6 M256.41 399.68v6.8 M253.11 403.08h6.6 M262.46 396.21v6.8 M259.16 399.61h6.6 M268.5 392.61v6.8 M265.2 396.01h6.6 " stroke="#0000ff" stroke-width="1.9" fill="none"/>
<path d="M57 379.51 L59.14 381.84 L61.27 384.13 L63.41 386.39 L65.55 388.62 L67.68 390.82 L69.82 392.98 L71.95 395.11 L74.09 397.19 L76.23 399.25 L78.36 401.26 L80.5 403.23 L82.64 405.17 L84.77 407.06 L86.91 408.92 L89.05 410.73 L91.18 412.49 L93.32 414.22 L95.45 415.89 L97.59 417.53 L99.73 419.12 L101.86 420.66 L104 422.15 L106.14 423.6 L108.27 424.99 L110.41 426.34 L112.55 427.64 L114.68 428.89 L116.82 430.09 L118.95 431.24 L121.09 432.33 L123.23 433.38 L125.36 434.37 L127.5 435.31 L129.64 436.19 L131.77 437.02 L133.91 437.8 L136.05 438.52 L138.18 439.19 L140.32 439.8 L142.45 440.36 L144.59 440.86 L146.73 441.31 L148.86 441.7 L151 442.03 L153.14 442.31 L155.27 442.53 L157.41 442.69 L159.55 442.8 L161.68 442.84 L163.82 442.84 L165.95 442.77 L168.09 442.65 L170.23 442.47 L172.36 442.23 L174.5 441.93 L176.64 441.58 L178.77 441.17 L180.91 440.7 L183.05 440.18 L185.18 439.59 L187.32 438.95 L189.45 438.26 L191.59 437.5 L193.73 436.69 L195.86 435.83 L198 434.9 L200.14 433.93 L202.27 432.89 L204.41 431.8 L206.55 430.65 L208.68 429.45 L210.82 428.2 L212.95 426.89 L215.09 425.53 L217.23 424.11 L219.36 422.64 L221.5 421.12 L223.64 419.54 L225.77 417.92 L227.91 416.24 L230.05 414.51 L232.18 412.73 L234.32 410.9 L236.45 409.02 L238.59 407.09 L240.73 405.12 L242.86 403.1 L245 401.03 L247.14 398.91 L249.27 396.75 L251.41 394.54 L253.55 392.29 L255.68 390 L257.82 387.66 L259.95 385.28 L262.09 382.86 L264.23 380.4 L266.36 377.9 L268.5 375.37" fill="none" stroke="#000000" stroke-width="2.1" stroke-linejoin="round" stroke-linecap="butt"/>
<path d="M57 400.63 L59.14 401.73 L61.27 402.83 L63.41 403.91 L65.55 404.98 L67.68 406.04 L69.82 407.09 L71.95 408.12 L74.09 409.14 L76.23 410.14 L78.36 411.12 L80.5 412.09 L82.64 413.05 L84.77 413.98 L86.91 414.9 L89.05 415.8 L91.18 416.67 L93.32 417.53 L95.45 418.37 L97.59 419.18 L99.73 419.98 L101.86 420.75 L104 421.5 L106.14 422.23 L108.27 422.93 L110.41 423.61 L112.55 424.26 L114.68 424.89 L116.82 425.49 L118.95 426.07 L121.09 426.62 L123.23 427.15 L125.36 427.65 L127.5 428.12 L129.64 428.56 L131.77 428.98 L133.91 429.37 L136.05 429.73 L138.18 430.06 L140.32 430.37 L142.45 430.64 L144.59 430.89 L146.73 431.1 L148.86 431.29 L151 431.45 L153.14 431.57 L155.27 431.67 L157.41 431.74 L159.55 431.78 L161.68 431.78 L163.82 431.76 L165.95 431.71 L168.09 431.62 L170.23 431.51 L172.36 431.36 L174.5 431.19 L176.64 430.98 L178.77 430.75 L180.91 430.48 L183.05 430.18 L185.18 429.85 L187.32 429.5 L189.45 429.11 L191.59 428.69 L193.73 428.25 L195.86 427.77 L198 427.27 L200.14 426.73 L202.27 426.17 L204.41 425.57 L206.55 424.95 L208.68 424.3 L210.82 423.62 L212.95 422.92 L215.09 422.18 L217.23 421.42 L219.36 420.64 L221.5 419.82 L223.64 418.98 L225.77 418.11 L227.91 417.22 L230.05 416.31 L232.18 415.36 L234.32 414.4 L236.45 413.41 L238.59 412.39 L240.73 411.35 L242.86 410.29 L245 409.21 L247.14 408.11 L249.27 406.99 L251.41 405.84 L253.55 404.68 L255.68 403.49 L257.82 402.29 L259.95 401.07 L262.09 399.83 L264.23 398.57 L266.36 397.3 L268.5 396.01" fill="none" stroke="#000000" stroke-width="2.1" stroke-linejoin="round" stroke-linecap="butt"/>
<path d="M325.8 486.32 L326.51 486.29 L327.21 486.27 L327.92 486.24 L328.63 486.21 L329.34 486.18 L330.04 486.15 L330.75 486.12 L331.46 486.08 L332.17 486.04 L332.87 486 L333.58 485.95 L334.29 485.91 L335 485.85 L335.7 485.8 L336.41 485.74 L337.12 485.68 L337.83 485.61 L338.53 485.54 L339.24 485.47 L339.95 485.39 L340.65 485.3 L341.36 485.21 L342.07 485.11 L342.78 485.01 L343.48 484.9 L344.19 484.78 L344.9 484.66 L345.61 484.53 L346.31 484.39 L347.02 484.25 L347.73 484.09 L348.44 483.93 L349.14 483.76 L349.85 483.57 L350.56 483.38 L351.26 483.17 L351.97 482.96 L352.68 482.73 L353.39 482.49 L354.09 482.24 L354.8 481.97 L355.51 481.69 L356.22 481.39 L356.92 481.08 L357.63 480.76 L358.34 480.41 L359.05 480.05 L359.75 479.67 L360.46 479.28 L361.17 478.86 L361.88 478.43 L362.58 477.97 L363.29 477.49 L364 476.99 L364.7 476.47 L365.41 475.92 L366.12 475.35 L366.83 474.76 L367.53 474.14 L368.24 473.49 L368.95 472.82 L369.66 472.12 L370.36 471.39 L371.07 470.66 L371.78 469.91 L372.49 469.12 L373.19 468.31 L373.9 467.46 L374.61 466.59 L375.32 465.68 L376.02 464.74 L376.73 463.77 L377.44 462.76 L378.14 461.72 L378.85 460.64 L379.56 459.53 L380.27 458.39 L380.97 457.2 L381.68 455.98 L382.39 454.73 L383.1 453.43 L383.8 452.1 L384.51 450.73 L385.22 449.33 L385.93 447.88 L386.63 446.4 L387.34 444.88 L388.05 443.32 L388.75 441.72 L389.46 440.08 L390.17 438.41 L390.88 436.69 L391.58 434.94 L392.29 433.16 L393 431.33 L393.71 429.48 L394.41 427.58 L395.12 425.65 L395.83 423.69 L396.54 421.7 L397.24 419.67 L397.95 417.62 L398.66 415.53 L399.37 413.42 L400.07 411.28 L400.78 409.12 L401.49 406.93 L402.19 404.73 L402.9 402.58 L403.61 400.41 L404.32 398.22 L405.02 396.02 L405.73 393.8 L406.44 391.58 L407.15 389.34 L407.85 387.09 L408.56 384.84 L409.27 382.59 L409.98 380.33 L410.68 378.08 L411.39 375.84 L412.1 373.6 L412.81 371.37 L413.51 369.11 L414.22 366.82 L414.93 364.55 L415.63 362.32 L416.34 360.12 L417.05 357.97 L417.76 355.85 L418.46 353.78 L419.17 351.76 L419.88 349.79 L420.59 347.87 L421.29 346.02 L422 344.22 L422.71 342.49 L423.42 340.83 L424.12 339.24 L424.83 337.72 L425.54 336.28 L426.24 334.92 L426.95 333.64 L427.66 332.44 L428.37 331.33 L429.07 330.31 L429.78 329.38 L430.49 328.54 L431.2 327.79 L431.9 327.14 L432.61 326.59 L433.32 326.13 L434.03 325.77 L434.73 325.52 L435.44 325.36 L436.15 325.3 L436.86 325.34 L437.56 325.47 L438.27 325.7 L438.98 326.02 L439.68 326.44 L440.39 326.94 L441.1 327.54 L441.81 328.23 L442.51 329 L443.22 329.87 L443.93 330.82 L444.64 331.85 L445.34 332.97 L446.05 334.16 L446.76 335.44 L447.47 336.79 L448.17 338.22 L448.88 339.72 L449.59 341.29 L450.29 342.92 L451 344.62 L451.71 346.39 L452.42 348.21 L453.12 350.08 L453.83 352.01 L454.54 353.99 L455.25 356.02 L455.95 358.09 L456.66 360.2 L457.37 362.35 L458.08 364.54 L458.78 366.75 L459.49 369 L460.2 371.26 L460.91 373.56 L461.61 375.87 L462.32 378.19 L463.03 380.53 L463.73 382.88 L464.44 385.24 L465.15 387.6 L465.86 389.96 L466.56 392.32 L467.27 394.67 L467.98 397.02 L468.69 399.36 L469.39 401.69 L470.1 404.01 L470.81 406.31 L471.52 408.59 L472.22 410.85 L472.93 413.08 L473.64 415.3 L474.35 417.48 L475.05 419.64 L475.76 421.77 L476.47 423.87 L477.17 425.93 L477.88 427.96 L478.59 429.96 L479.3 431.92 L480 433.84 L480.71 435.73 L481.42 437.57 L482.13 439.38 L482.83 441.15 L483.54 442.87 L484.25 444.56 L484.96 446.2 L485.66 447.8 L486.37 449.36 L487.08 450.88 L487.78 452.36 L488.49 453.79 L489.2 455.19 L489.91 456.54 L490.61 457.85 L491.32 459.11 L492.03 460.34 L492.74 461.53 L493.44 462.68 L494.15 463.79 L494.86 464.86 L495.57 465.89 L496.27 466.88 L496.98 467.84 L497.69 468.76 L498.4 469.65 L499.1 470.5 L499.81 471.32 L500.52 472.1 L501.22 472.85 L501.93 473.58 L502.64 474.27 L503.35 474.93 L504.05 475.56 L504.76 476.16 L505.47 476.74 L506.18 477.29 L506.88 477.81 L507.59 478.31 L508.3 478.79 L509.01 479.24 L509.71 479.67 L510.42 480.08 L511.13 480.47 L511.84 480.84 L512.54 481.19 L513.25 481.52 L513.96 481.83 L514.66 482.13 L515.37 482.41 L516.08 482.68 L516.79 482.93 L517.49 483.16 L518.2 483.39 L518.91 483.6 L519.62 483.8 L520.32 483.98 L521.03 484.16 L521.74 484.33 L522.45 484.48 L523.15 484.63 L523.86 484.76 L524.57 484.89 L525.27 485.01 L525.98 485.13 L526.69 485.23 L527.4 485.33 L528.1 485.42 L528.81 485.51 L529.52 485.59 L530.23 485.66 L530.93 485.73 L531.64 485.8 L532.35 485.86 L533.06 485.92 L533.76 485.97 L534.47 486.02 L535.18 486.06 L535.89 486.11 L536.59 486.14 L537.3 486.18" fill="none" stroke="#ff0000" stroke-width="2.0" stroke-linejoin="round" stroke-linecap="butt"/>
<path d="M325.8 486.46 L326.51 486.45 L327.21 486.44 L327.92 486.42 L328.63 486.4 L329.34 486.39 L330.04 486.37 L330.75 486.35 L331.46 486.32 L332.17 486.3 L332.87 486.27 L333.58 486.24 L334.29 486.21 L335 486.18 L335.7 486.15 L336.41 486.11 L337.12 486.07 L337.83 486.02 L338.53 485.97 L339.24 485.92 L339.95 485.87 L340.65 485.81 L341.36 485.74 L342.07 485.68 L342.78 485.6 L343.48 485.52 L344.19 485.44 L344.9 485.35 L345.61 485.25 L346.31 485.15 L347.02 485.04 L347.73 484.93 L348.44 484.8 L349.14 484.67 L349.85 484.53 L350.56 484.38 L351.26 484.22 L351.97 484.05 L352.68 483.87 L353.39 483.68 L354.09 483.47 L354.8 483.26 L355.51 483.03 L356.22 482.79 L356.92 482.53 L357.63 482.26 L358.34 481.97 L359.05 481.67 L359.75 481.35 L360.46 481.01 L361.17 480.66 L361.88 480.28 L362.58 479.89 L363.29 479.47 L364 479.03 L364.7 478.58 L365.41 478.09 L366.12 477.59 L366.83 477.06 L367.53 476.5 L368.24 475.92 L368.95 475.31 L369.66 474.67 L370.36 474 L371.07 473.31 L371.78 472.59 L372.49 471.84 L373.19 471.06 L373.9 470.25 L374.61 469.4 L375.32 468.51 L376.02 467.6 L376.73 466.64 L377.44 465.65 L378.14 464.63 L378.85 463.56 L379.56 462.46 L380.27 461.32 L380.97 460.14 L381.68 458.91 L382.39 457.65 L383.1 456.35 L383.8 455.01 L384.51 453.62 L385.22 452.19 L385.93 450.72 L386.63 449.21 L387.34 447.66 L388.05 446.07 L388.75 444.43 L389.46 442.75 L390.17 441.03 L390.88 439.27 L391.58 437.47 L392.29 435.63 L393 433.75 L393.71 431.83 L394.41 429.87 L395.12 427.88 L395.83 425.85 L396.54 423.79 L397.24 421.69 L397.95 419.56 L398.66 417.4 L399.37 415.21 L400.07 413 L400.78 410.76 L401.49 408.49 L402.19 406.21 L402.9 403.97 L403.61 401.72 L404.32 399.45 L405.02 397.17 L405.73 394.87 L406.44 392.56 L407.15 390.24 L407.85 387.92 L408.56 385.6 L409.27 383.27 L409.98 380.95 L410.68 378.63 L411.39 376.32 L412.1 374.02 L412.81 371.73 L413.51 369.44 L414.22 367.14 L414.93 364.87 L415.63 362.64 L416.34 360.43 L417.05 358.27 L417.76 356.15 L418.46 354.07 L419.17 352.04 L419.88 350.06 L420.59 348.14 L421.29 346.28 L422 344.47 L422.71 342.73 L423.42 341.06 L424.12 339.46 L424.83 337.93 L425.54 336.48 L426.24 335.11 L426.95 333.82 L427.66 332.61 L428.37 331.49 L429.07 330.45 L429.78 329.51 L430.49 328.65 L431.2 327.89 L431.9 327.23 L432.61 326.66 L433.32 326.19 L434.03 325.82 L434.73 325.55 L435.44 325.37 L436.15 325.3 L436.86 325.33 L437.56 325.45 L438.27 325.66 L438.98 325.97 L439.68 326.37 L440.39 326.87 L441.1 327.45 L441.81 328.12 L442.51 328.89 L443.22 329.74 L443.93 330.68 L444.64 331.7 L445.34 332.8 L446.05 333.99 L446.76 335.25 L447.47 336.6 L448.17 338.01 L448.88 339.5 L449.59 341.06 L450.29 342.69 L451 344.38 L451.71 346.13 L452.42 347.95 L453.12 349.82 L453.83 351.74 L454.54 353.71 L455.25 355.73 L455.95 357.8 L456.66 359.9 L457.37 362.05 L458.08 364.23 L458.78 366.44 L459.49 368.68 L460.2 370.94 L460.91 373.23 L461.61 375.54 L462.32 377.86 L463.03 380.2 L463.73 382.55 L464.44 384.9 L465.15 387.26 L465.86 389.62 L466.56 391.98 L467.27 394.34 L467.98 396.69 L468.69 399.03 L469.39 401.37 L470.1 403.68 L470.81 405.98 L471.52 408.27 L472.22 410.53 L472.93 412.77 L473.64 414.98 L474.35 417.17 L475.05 419.34 L475.76 421.47 L476.47 423.57 L477.17 425.64 L477.88 427.68 L478.59 429.68 L479.3 431.64 L480 433.57 L480.71 435.46 L481.42 437.31 L482.13 439.13 L482.83 440.9 L483.54 442.63 L484.25 444.32 L484.96 445.97 L485.66 447.58 L486.37 449.15 L487.08 450.67 L487.78 452.15 L488.49 453.59 L489.2 454.99 L489.91 456.35 L490.61 457.66 L491.32 458.94 L492.03 460.17 L492.74 461.37 L493.44 462.52 L494.15 463.63 L494.86 464.71 L495.57 465.75 L496.27 466.75 L496.98 467.71 L497.69 468.63 L498.4 469.53 L499.1 470.38 L499.81 471.2 L500.52 471.99 L501.22 472.75 L501.93 473.48 L502.64 474.17 L503.35 474.83 L504.05 475.47 L504.76 476.08 L505.47 476.66 L506.18 477.21 L506.88 477.74 L507.59 478.24 L508.3 478.72 L509.01 479.18 L509.71 479.61 L510.42 480.02 L511.13 480.41 L511.84 480.79 L512.54 481.14 L513.25 481.47 L513.96 481.79 L514.66 482.09 L515.37 482.37 L516.08 482.64 L516.79 482.89 L517.49 483.13 L518.2 483.36 L518.91 483.57 L519.62 483.77 L520.32 483.96 L521.03 484.14 L521.74 484.3 L522.45 484.46 L523.15 484.61 L523.86 484.74 L524.57 484.87 L525.27 485 L525.98 485.11 L526.69 485.22 L527.4 485.32 L528.1 485.41 L528.81 485.5 L529.52 485.58 L530.23 485.65 L530.93 485.72 L531.64 485.79 L532.35 485.85 L533.06 485.91 L533.76 485.96 L534.47 486.01 L535.18 486.06 L535.89 486.1 L536.59 486.14 L537.3 486.18" fill="none" stroke="#000000" stroke-width="2.0" stroke-linejoin="round" stroke-linecap="butt" stroke-dasharray="5 1.7"/>
<path d="M594.3 472 L594.65 471.99 L595 471.97 L595.35 471.95 L595.7 471.93 L596.05 471.91 L596.4 471.89 L596.75 471.87 L597.1 471.85 L597.45 471.83 L597.8 471.8 L598.15 471.78 L598.5 471.75 L598.85 471.73 L599.2 471.7 L599.55 471.67 L599.9 471.64 L600.25 471.61 L600.6 471.58 L600.95 471.55 L601.3 471.52 L601.65 471.49 L602 471.46 L602.35 471.42 L602.7 471.39 L603.05 471.36 L603.4 471.32 L603.75 471.29 L604.1 471.25 L604.45 471.22 L604.6 471.2 L604.8 471.18 L605.15 471.14 L605.5 471.1 L605.85 471.07 L606.2 471.03 L606.55 470.99 L606.9 470.94 L607.25 470.9 L607.6 470.86 L607.95 470.81 L608.3 470.77 L608.65 470.72 L609 470.67 L609.35 470.62 L609.7 470.57 L610.05 470.52 L610.4 470.47 L610.75 470.41 L611.1 470.36 L611.45 470.3 L611.8 470.24 L612.15 470.18 L612.5 470.12 L612.85 470.05 L613.2 469.99 L613.55 469.92 L613.9 469.85 L614.25 469.78 L614.6 469.71 L614.95 469.63 L615.1 469.6 L615.3 469.56 L615.65 469.47 L616 469.38 L616.35 469.28 L616.7 469.18 L617.05 469.07 L617.4 468.95 L617.75 468.84 L618.1 468.71 L618.45 468.59 L618.8 468.46 L619.15 468.32 L619.5 468.19 L619.85 468.05 L620.2 467.92 L620.55 467.78 L620.9 467.64 L621 467.6 L621.25 467.5 L621.6 467.36 L621.95 467.22 L622.3 467.07 L622.65 466.92 L623 466.77 L623.35 466.61 L623.7 466.45 L624.05 466.28 L624.4 466.11 L624.75 465.93 L625.1 465.74 L625.45 465.55 L625.7 465.4 L625.8 465.34 L626.15 465.12 L626.5 464.89 L626.85 464.64 L627.2 464.38 L627.55 464.11 L627.9 463.83 L628.25 463.54 L628.6 463.24 L628.95 462.94 L629.3 462.63 L629.65 462.32 L630 462 L630.35 461.69 L630.7 461.37 L631 461.1 L631.05 461.06 L631.4 460.74 L631.75 460.43 L632.1 460.12 L632.45 459.81 L632.8 459.49 L633.15 459.17 L633.5 458.84 L633.85 458.5 L634.2 458.16 L634.55 457.8 L634.9 457.42 L635.25 457.04 L635.6 456.63 L635.95 456.21 L636.2 455.9 L636.3 455.77 L636.65 455.3 L637 454.79 L637.35 454.25 L637.7 453.69 L638.05 453.09 L638.4 452.47 L638.75 451.84 L639.1 451.18 L639.4 450.6 L639.45 450.5 L639.8 449.8 L640.15 449.06 L640.5 448.29 L640.85 447.46 L641.2 446.59 L641.5 445.8 L641.55 445.66 L641.9 444.67 L642.25 443.58 L642.6 442.42 L642.95 441.16 L643.1 440.6 L643.3 439.83 L643.65 438.45 L644 436.94 L644.35 435.21 L644.7 433.2 L644.7 433.2 L645.05 430.09 L645.4 426.17 L645.75 422.97 L645.9 422.2 L646.1 421.52 L646.45 420.41 L646.8 419.42 L647.15 418.54 L647.5 417.8 L647.85 417.2 L648.2 416.74 L648.55 416.44 L648.9 416.31 L649 416.3 L649.25 416.41 L649.6 416.85 L649.95 417.56 L650.3 418.4 L650.65 419.27 L651 420.07 L651.35 420.67 L651.7 420.98 L651.8 421 L652.05 421 L652.4 420.99 L652.75 420.97 L653.1 420.95 L653.45 420.92 L653.8 420.89 L654.15 420.84 L654.5 420.79 L654.85 420.74 L655.2 420.67 L655.55 420.6 L655.9 420.52 L656 420.5 L656.25 420.38 L656.6 420.05 L656.95 419.54 L657.3 418.86 L657.65 418.06 L658 417.15 L658.35 416.16 L658.7 415.11 L658.8 414.8 L659.05 413.93 L659.4 412.42 L659.75 410.57 L660.1 408.44 L660.45 406.03 L660.8 403.4 L661 401.8 L661.15 400.44 L661.5 396.38 L661.85 391.62 L662.2 386.79 L662.55 382.53 L662.6 382 L662.9 378.58 L663.25 374.66 L663.6 372.34 L663.7 372.2 L663.95 372.84 L664.3 375.32 L664.65 378.68 L664.9 381 L665 381.89 L665.35 385.49 L665.7 389.17 L665.9 391 L666.05 392.24 L666.4 395.06 L666.75 397.73 L667.1 400.17 L667.45 402.28 L667.8 404 L667.8 404 L668.15 405.52 L668.5 407 L668.85 408.27 L669.2 409.19 L669.55 409.59 L669.6 409.6 L669.9 409.41 L670.25 408.75 L670.6 407.69 L670.95 406.3 L671.3 404.64 L671.65 402.79 L672 400.82 L672.35 398.79 L672.4 398.5 L672.7 396.49 L673.05 393.56 L673.4 390.13 L673.75 386.33 L674.1 382.33 L674.3 380 L674.45 378.15 L674.8 373.24 L675.15 367.82 L675.5 362.33 L675.85 357.2 L676.1 354 L676.2 352.78 L676.55 348.14 L676.9 343.64 L677.25 340.24 L677.6 338.9 L677.6 338.9 L677.95 340.01 L678.3 342.85 L678.65 346.7 L679 350.81 L679.3 354 L679.35 354.49 L679.7 358.24 L680.05 362.35 L680.4 366.38 L680.75 369.93 L681.1 372.6 L681.1 372.6 L681.45 374.71 L681.8 376.67 L682.15 378.18 L682.5 378.96 L682.6 379 L682.85 378.32 L683.2 375.53 L683.55 371.43 L683.9 366.94 L684.25 362.97 L684.6 360.44 L684.8 360 L684.95 360.22 L685.3 362.16 L685.65 365.47 L686 369.38 L686.3 372.6 L686.35 373.11 L686.7 377.36 L687.05 382.21 L687.4 386.88 L687.75 390.59 L687.8 391 L688.1 393.4 L688.45 396.01 L688.8 397.9 L689.1 398.5 L689.15 398.49 L689.5 397.89 L689.85 396.56 L690.2 394.78 L690.55 392.84 L690.9 391 L690.9 391 L691.25 389.13 L691.6 386.99 L691.95 384.67 L692.3 382.3 L692.65 379.97 L693 377.81 L693.35 375.92 L693.7 374.4 L693.7 374.4 L694.05 373.09 L694.4 371.77 L694.75 370.53 L695.1 369.45 L695.45 368.6 L695.8 368.06 L696.1 367.9 L696.15 367.91 L696.5 368.26 L696.85 369 L697.2 369.95 L697.55 370.9 L697.9 371.64 L698.25 371.99 L698.3 372 L698.6 371.83 L698.95 371.26 L699.3 370.35 L699.65 369.18 L700 367.83 L700.2 367 L700.35 366.21 L700.7 363.29 L701.05 359.38 L701.4 355.07 L701.75 350.97 L702 348.5 L702.1 347.6 L702.45 344.15 L702.8 340.6 L703.15 337.42 L703.5 335.07 L703.85 334.02 L703.9 334 L704.2 334.89 L704.55 337.83 L704.9 342.18 L705.25 347.31 L705.6 352.57 L705.7 354 L705.95 358.12 L706.3 365.18 L706.65 372.35 L707 378.1 L707 378.1 L707.35 382.46 L707.7 386.38 L708.05 389.71 L708.4 392.31 L708.5 392.9 L708.75 394.22 L709.1 395.85 L709.45 397.27 L709.8 398.52 L710.15 399.65 L710.5 400.7 L710.85 401.7 L711.2 402.71 L711.3 403 L711.55 403.7 L711.9 404.59 L712.25 405.4 L712.6 406.17 L712.95 406.94 L713.3 407.76 L713.65 408.66 L714 409.68 L714.1 410 L714.35 410.89 L714.7 412.34 L715.05 413.98 L715.4 415.74 L715.75 417.55 L716.1 419.34 L716.45 421.06 L716.7 422.2 L716.8 422.64 L717.15 424.17 L717.5 425.7 L717.85 427.2 L718.2 428.67 L718.55 430.1 L718.9 431.47 L719.25 432.77 L719.4 433.3 L719.6 434 L719.95 435.21 L720.3 436.4 L720.65 437.57 L721 438.71 L721.35 439.8 L721.7 440.85 L722.05 441.84 L722.4 442.76 L722.75 443.62 L723.1 444.4 L723.1 444.4 L723.45 445.15 L723.8 445.92 L724.15 446.7 L724.5 447.46 L724.85 448.19 L725.2 448.89 L725.55 449.52 L725.9 450.08 L726.25 450.56 L726.6 450.93 L726.95 451.18 L727.3 451.29 L727.4 451.3 L727.65 451.27 L728 451.11 L728.35 450.83 L728.7 450.45 L729.05 449.99 L729.4 449.44 L729.75 448.84 L730.1 448.19 L730.45 447.5 L730.6 447.2 L730.8 446.76 L731.15 445.81 L731.5 444.63 L731.85 443.22 L732.2 441.59 L732.55 439.73 L732.9 437.64 L733 437 L733.25 435.01 L733.6 431.2 L733.95 426.59 L734.3 421.62 L734.65 416.75 L734.8 414.8 L735 412.22 L735.35 407.54 L735.7 402.92 L736.05 398.66 L736.1 398.1 L736.4 394.4 L736.75 390.01 L737.1 386.96 L737.3 386.4 L737.45 386.82 L737.8 390.42 L738.15 396.07 L738.5 401.8 L738.5 401.8 L738.85 407.53 L739.2 413.91 L739.55 420.13 L739.8 424 L739.9 425.4 L740.25 430.18 L740.6 434.7 L740.95 438.88 L741.3 442.64 L741.65 445.88 L741.7 446.3 L742 448.7 L742.35 451.32 L742.7 453.76 L743.05 456.01 L743.4 458.07 L743.75 459.94 L744.1 461.62 L744.4 462.9 L744.45 463.1 L744.8 464.47 L745.15 465.75 L745.5 466.95 L745.85 468.05 L746.2 469.06 L746.55 469.95 L746.9 470.73 L747.2 471.3 L747.25 471.39 L747.6 471.98 L747.95 472.54 L748.3 473.06 L748.65 473.56 L749 474.02 L749.35 474.46 L749.7 474.86 L750.05 475.24 L750.4 475.59 L750.75 475.92 L751.1 476.21 L751.45 476.49 L751.8 476.73 L751.9 476.8 L752.15 476.96 L752.5 477.18 L752.85 477.38 L753.2 477.58 L753.55 477.77 L753.9 477.95 L754.25 478.12 L754.6 478.29 L754.95 478.45 L755.3 478.6 L755.65 478.74 L756 478.88 L756.35 479.02 L756.7 479.15 L757.05 479.27 L757.4 479.39 L757.75 479.51 L758.1 479.62 L758.45 479.74 L758.8 479.85 L759.15 479.95 L759.3 480 L759.5 480.06 L759.85 480.17 L760.2 480.27 L760.55 480.37 L760.9 480.47 L761.25 480.56 L761.6 480.66 L761.95 480.75 L762.3 480.84 L762.65 480.93 L763 481.02 L763.35 481.1 L763.7 481.19 L764.05 481.27 L764.4 481.35 L764.75 481.43 L765.1 481.51 L765.45 481.59 L765.8 481.67 L766.15 481.74 L766.5 481.82 L766.85 481.89 L767.2 481.96 L767.55 482.03 L767.9 482.11 L768.25 482.18 L768.6 482.25 L768.95 482.31 L769.3 482.38 L769.65 482.45 L770 482.52 L770.35 482.59 L770.7 482.65 L771.05 482.72 L771.4 482.79 L771.75 482.85 L772.1 482.92 L772.45 482.99 L772.8 483.05 L773.15 483.12 L773.5 483.18 L773.85 483.25 L774.1 483.3 L774.2 483.32 L774.55 483.39 L774.9 483.45 L775.25 483.52 L775.6 483.58 L775.95 483.65 L776.3 483.71 L776.65 483.78 L777 483.84 L777.35 483.9 L777.7 483.96 L778.05 484.03 L778.4 484.09 L778.75 484.15 L779.1 484.21 L779.45 484.27 L779.8 484.33 L780.15 484.39 L780.5 484.45 L780.85 484.51 L781.2 484.57 L781.55 484.62 L781.9 484.68 L782.25 484.74 L782.6 484.8 L782.95 484.85 L783.3 484.91 L783.65 484.97 L784 485.03 L784.35 485.08 L784.7 485.14 L785.05 485.19 L785.4 485.25 L785.75 485.31 L786.1 485.36 L786.45 485.42 L786.8 485.47 L787.15 485.53 L787.5 485.59 L787.85 485.64 L788.2 485.7 L788.55 485.75 L788.9 485.81 L789.25 485.87 L789.6 485.92 L789.95 485.98 L790.3 486.04 L790.65 486.09 L790.7 486.1 L791 486.15 L791.35 486.2 L791.7 486.26 L792.05 486.31 L792.4 486.37 L792.6 486.4" fill="none" stroke="#ff0000" stroke-width="2.0" stroke-linejoin="round" stroke-linecap="butt"/>
<path d="M594.3 473.8 L597.2 475.9 L604.6 476.5 L606.7 475.9 L608.3 464.8 L609.8 461.7 L610.9 467 L612.5 461.7 L613.3 455.3 L614.1 462.7 L615.6 473.3 L617.2 467 L618.8 460.6 L620.4 465.9 L621.7 469.6 L623.6 463.8 L625.2 453.2 L626.7 445.8 L629.4 450.6 L631.5 451.1 L633.6 446.9 L635.7 447.4 L636.8 454.3 L637.8 461.7 L639.4 457.5 L641.5 449 L641.85 447.64 L642.2 446.26 L642.55 444.87 L642.9 443.46 L643.25 442.04 L643.6 440.6 L643.6 440.6 L643.95 439.1 L644.3 437.55 L644.65 436.06 L644.9 435.1 L645 434.73 L645.35 433.39 L645.7 431.99 L646.05 430.58 L646.4 429.19 L646.75 427.88 L647.1 426.69 L647.45 425.66 L647.8 424.84 L648.15 424.28 L648.5 424.01 L648.6 424 L648.85 424.01 L649.2 424.05 L649.55 424.13 L649.9 424.24 L650.25 424.38 L650.6 424.54 L650.95 424.73 L651.3 424.94 L651.4 425 L651.65 425.3 L652 426.11 L652.35 427.24 L652.7 428.54 L653.05 429.86 L653.4 431.04 L653.75 431.93 L654.1 432.37 L654.2 432.4 L654.45 432.31 L654.8 431.93 L655.15 431.28 L655.5 430.44 L655.85 429.45 L656.2 428.37 L656.55 427.27 L656.9 426.19 L657 425.9 L657.25 425.16 L657.6 424.09 L657.95 422.95 L658.3 421.75 L658.65 420.47 L659 419.12 L659.35 417.67 L659.7 416.12 L660.05 414.47 L660.4 412.71 L660.7 411.1 L660.75 410.82 L661.1 408.49 L661.45 405.71 L661.8 402.69 L662.15 399.64 L662.5 396.76 L662.6 396 L662.85 393.93 L663.2 390.7 L663.55 387.75 L663.9 385.84 L664.1 385.5 L664.25 385.74 L664.6 387.83 L664.95 391.43 L665.3 395.7 L665.65 399.81 L665.9 402.2 L666 403.02 L666.35 405.95 L666.7 408.84 L667.05 411.55 L667.4 413.91 L667.75 415.78 L667.8 416 L668.1 417.29 L668.45 418.71 L668.8 419.79 L669.15 420.29 L669.2 420.3 L669.5 419.91 L669.85 418.71 L670.2 417.05 L670.55 415.33 L670.6 415.1 L670.9 413.69 L671.25 411.89 L671.6 409.93 L671.95 407.84 L672.3 405.6 L672.65 403.23 L673 400.73 L673.3 398.5 L673.35 398.12 L673.7 395.17 L674.05 391.86 L674.4 388.28 L674.75 384.55 L675.1 380.77 L675.45 377.06 L675.8 373.52 L676.1 370.7 L676.15 370.24 L676.5 366.67 L676.85 362.83 L677.2 359.26 L677.55 356.5 L677.9 355.08 L678 355 L678.25 355.9 L678.6 359.58 L678.95 365.01 L679.3 370.99 L679.65 376.32 L679.8 378.1 L680 380.3 L680.35 384.41 L680.7 388.54 L681.05 392.29 L681.4 395.3 L681.75 397.17 L682 397.6 L682.1 397.51 L682.45 396 L682.8 393.06 L683.15 389.33 L683.5 385.4 L683.85 381.9 L684.1 380 L684.2 379.34 L684.55 377.02 L684.8 376.3 L684.9 376.39 L685.25 377.85 L685.6 380.66 L685.95 384.15 L686.3 387.7 L686.65 390.66 L686.7 391 L687 393.05 L687.35 395.61 L687.7 398.2 L688.05 400.65 L688.4 402.8 L688.75 404.5 L689.1 405.58 L689.4 405.9 L689.45 405.89 L689.8 405.4 L690.15 404.27 L690.5 402.67 L690.85 400.75 L691.2 398.7 L691.55 396.66 L691.9 394.8 L691.9 394.8 L692.25 392.87 L692.6 390.62 L692.95 388.25 L693.3 385.98 L693.65 384 L694 382.52 L694.3 381.8 L694.35 381.73 L694.7 381.3 L695.05 380.94 L695.4 380.65 L695.75 380.41 L696.1 380.21 L696.45 380.03 L696.5 380 L696.8 379.87 L697.15 379.75 L697.5 379.66 L697.85 379.58 L698.2 379.49 L698.55 379.38 L698.9 379.23 L699.25 379.03 L699.3 379 L699.6 378.58 L699.95 377.64 L700.3 376.33 L700.65 374.77 L701 373.09 L701.1 372.6 L701.35 371.04 L701.7 367.91 L702.05 364.17 L702.4 360.31 L702.75 356.84 L703.1 354.27 L703.45 353.12 L703.5 353.1 L703.8 353.9 L704.15 356.51 L704.5 360.3 L704.85 364.64 L705.2 368.9 L705.2 368.9 L705.55 373.69 L705.9 379.42 L706.25 385.15 L706.6 389.94 L706.7 391 L706.95 393.38 L707.3 396.45 L707.65 399.17 L708 401.49 L708.35 403.35 L708.5 404 L708.7 404.76 L709.05 405.93 L709.4 406.93 L709.75 407.81 L710.1 408.61 L710.45 409.38 L710.8 410.16 L711.15 411.01 L711.3 411.4 L711.5 411.93 L711.85 412.84 L712.2 413.74 L712.55 414.64 L712.9 415.57 L713.25 416.54 L713.6 417.56 L713.9 418.5 L713.95 418.66 L714.3 419.88 L714.65 421.21 L715 422.62 L715.35 424.08 L715.7 425.56 L716.05 427.03 L716.4 428.44 L716.7 429.6 L716.75 429.79 L717.1 431.11 L717.45 432.45 L717.8 433.8 L718.15 435.14 L718.5 436.45 L718.85 437.73 L719.2 438.96 L719.55 440.12 L719.9 441.21 L720.25 442.2 L720.4 442.6 L720.6 443.11 L720.95 443.97 L721.3 444.8 L721.65 445.59 L722 446.35 L722.35 447.08 L722.7 447.78 L723.05 448.45 L723.4 449.1 L723.75 449.73 L724.1 450.33 L724.45 450.92 L724.8 451.48 L725 451.8 L725.15 452.04 L725.5 452.64 L725.85 453.26 L726.2 453.88 L726.55 454.46 L726.9 454.98 L727.25 455.41 L727.6 455.72 L727.95 455.88 L728.1 455.9 L728.3 455.86 L728.65 455.64 L729 455.23 L729.35 454.66 L729.7 453.94 L730.05 453.09 L730.4 452.14 L730.75 451.1 L731.1 450 L731.1 450 L731.45 448.49 L731.8 446.31 L732.15 443.63 L732.5 440.62 L732.85 437.42 L733.2 434.2 L733.3 433.3 L733.55 430.92 L733.9 427.18 L734.25 423.19 L734.6 419.17 L734.95 415.37 L735.2 412.9 L735.3 411.94 L735.65 408.23 L736 404.43 L736.35 401.1 L736.7 398.81 L737 398.1 L737.05 398.12 L737.4 399.29 L737.75 401.84 L738.1 405.17 L738.45 408.71 L738.5 409.2 L738.8 412.67 L739.15 417.79 L739.5 423.39 L739.85 428.79 L740.2 433.3 L740.2 433.3 L740.55 436.98 L740.9 440.35 L741.25 443.43 L741.6 446.26 L741.9 448.5 L741.95 448.86 L742.3 451.32 L742.65 453.69 L743 455.94 L743.35 458.04 L743.7 459.96 L744.05 461.69 L744.4 463.2 L744.4 463.2 L744.75 464.55 L745.1 465.83 L745.45 467.02 L745.8 468.13 L746.15 469.14 L746.5 470.04 L746.85 470.83 L747.2 471.5 L747.2 471.5 L747.55 472.09 L747.9 472.65 L748.25 473.18 L748.6 473.68 L748.95 474.15 L749.3 474.59 L749.65 475 L750 475.39 L750.35 475.74 L750.7 476.07 L751.05 476.37 L751.4 476.65 L751.75 476.9 L751.9 477 L752.1 477.13 L752.45 477.35 L752.8 477.56 L753.15 477.75 L753.5 477.94 L753.85 478.13 L754.2 478.3 L754.55 478.47 L754.9 478.62 L755.25 478.78 L755.6 478.92 L755.95 479.06 L756.3 479.2 L756.65 479.33 L757 479.45 L757.35 479.58 L757.7 479.69 L758.05 479.81 L758.4 479.92 L758.75 480.03 L759.1 480.14 L759.3 480.2 L759.45 480.25 L759.8 480.35 L760.15 480.45 L760.5 480.55 L760.85 480.65 L761.2 480.75 L761.55 480.84 L761.9 480.94 L762.25 481.03 L762.6 481.12 L762.95 481.21 L763.3 481.29 L763.65 481.38 L764 481.46 L764.35 481.54 L764.7 481.63 L765.05 481.71 L765.4 481.78 L765.75 481.86 L766.1 481.94 L766.45 482.01 L766.8 482.09 L767.15 482.16 L767.5 482.23 L767.85 482.3 L768.2 482.37 L768.55 482.44 L768.9 482.51 L769.25 482.58 L769.6 482.65 L769.95 482.72 L770.3 482.78 L770.65 482.85 L771 482.92 L771.35 482.98 L771.7 483.05 L772.05 483.12 L772.4 483.18 L772.75 483.25 L773.1 483.31 L773.45 483.38 L773.8 483.44 L774.1 483.5 L774.15 483.51 L774.5 483.58 L774.85 483.64 L775.2 483.71 L775.55 483.77 L775.9 483.84 L776.25 483.9 L776.6 483.97 L776.95 484.03 L777.3 484.1 L777.65 484.16 L778 484.22 L778.35 484.29 L778.7 484.35 L779.05 484.41 L779.4 484.47 L779.75 484.54 L780.1 484.6 L780.45 484.66 L780.8 484.72 L781.15 484.78 L781.5 484.84 L781.85 484.9 L782.2 484.96 L782.55 485.02 L782.9 485.07 L783.25 485.13 L783.6 485.19 L783.95 485.24 L784.3 485.3 L784.65 485.35 L785 485.41 L785.35 485.46 L785.7 485.52 L786.05 485.57 L786.4 485.62 L786.75 485.67 L787.1 485.72 L787.45 485.77 L787.8 485.82 L788.15 485.87 L788.5 485.92 L788.85 485.96 L789.2 486.01 L789.55 486.06 L789.9 486.1 L790.25 486.14 L790.6 486.19 L790.7 486.2 L790.95 486.23 L791.3 486.27 L791.65 486.31 L792 486.34 L792.35 486.38 L792.6 486.4" fill="none" stroke="#000000" stroke-width="2.0" stroke-linejoin="round" stroke-linecap="butt" stroke-dasharray="6 2.6"/>
</svg>
</body></html>
